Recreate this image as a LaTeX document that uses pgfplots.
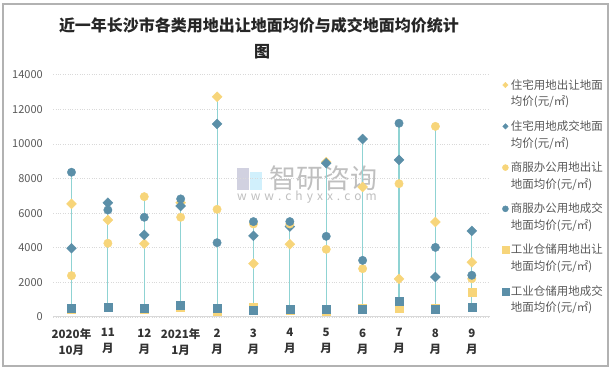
\documentclass[border=0pt]{standalone}
\usepackage{fontspec}
\setmainfont{Noto Sans CJK SC}
\usepackage{pgfplots}
\pgfplotsset{compat=1.18}
\definecolor{cy}{HTML}{F7D57A}
\definecolor{cb}{HTML}{5B8FA8}
\definecolor{cl}{HTML}{8FD3D3}
\definecolor{txt}{HTML}{595959}
\definecolor{gridc}{HTML}{D9D9D9}
\pgfplotsset{limg/.style={legend image code/.code={\draw[##1,yshift=8.2pt,/tikz/every mark/.append style={scale=#1}] plot coordinates {(0pt,0pt)};}}}
\begin{document}
\begin{tikzpicture}
\useasboundingbox (0pt,0pt) rectangle (614pt,371pt);
\draw[color=black!30, line width=1.2pt] (3pt,367pt) rectangle (608pt,5pt);
\node[font=\fontsize{16}{20}\selectfont\bfseries, text=black!85] at (259pt,346pt) {近一年长沙市各类用地出让地面均价与成交地面均价统计};
\node[font=\fontsize{16}{20}\selectfont\bfseries, text=black!85] at (262pt,319pt) {图};
% watermark
\fill[blue!20!gray!30] (237pt,181pt) rectangle (249pt,203pt);
\fill[cyan!18] (250pt,181pt) rectangle (262pt,199pt);
\node[font=\fontsize{27}{30}\selectfont, text=black!25] at (323pt,193pt) {智研咨询};
\node[font=\fontsize{12}{14}\selectfont, text=black!25] at (307pt,174pt) {w\,\,w\,\,w\,\,.\,\,c\,\,h\,\,y\,\,x\,\,x\,\,.\,\,c\,\,o\,\,m};
\begin{axis}[
  at={(53.3pt,54pt)}, anchor=south west, scale only axis,
  width=436.7pt, height=242.4pt,
  xmin=-0.5, xmax=11.5, ymin=0, ymax=14000,
  xtick={0,...,11},
  xticklabels={{2020年\\10月},{11\\月},{12\\月},{2021年\\1月},{2\\月},{3\\月},{4\\月},{5\\月},{6\\月},{7\\月},{8\\月},{9\\月}},
  ytick={0,2000,...,14000},
  scaled y ticks=false,
  axis x line*=bottom, axis y line*=left,
  x axis line style={-, draw=gridc, line width=1pt},
  y axis line style={draw=none},
  major tick length=0pt,
  ymajorgrids, grid style={gridc, dotted, line width=0.6pt},
  xticklabel style={align=center, font=\fontsize{11.5}{16}\selectfont\bfseries, text=black!80, yshift=-8pt},
  yticklabel style={font=\fontsize{11}{13}\selectfont, text=txt, xshift=-7pt},
  /pgf/number format/assume math mode=true,
  /pgf/number format/1000 sep={},
  legend style={at={(1.02,0.998)}, anchor=north west, draw=none, fill=none,
    font=\fontsize{11.5}{16.7}\selectfont, text=txt, cells={align=left, anchor=west},
    row sep=9.3pt},
  legend cell align=left,
]
\addplot[cl, line width=1.1pt, unbounded coords=jump, forget plot] coordinates {
(0,450) (0,8360) (0,nan)
(1,560) (1,6600) (1,nan)
(2,460) (2,6950) (2,nan)
(3,580) (3,6820) (3,nan)
(4,350) (4,12720) (4,nan)
(5,400) (5,5510) (5,nan)
(6,400) (6,5510) (6,nan)
(7,350) (7,8950) (7,nan)
(8,460) (8,10280) (8,nan)
(9,500) (9,11190) (9,nan)
(10,460) (10,11010) (10,nan)
(11,580) (11,4970)
};
\addplot[cy, only marks, mark=square*, mark size=3.5pt, mark options={rotate=45}, limg=0.55] coordinates {
(0,6530) (1,5600) (2,4230) (3,6600) (4,12720) (5,3080) (6,4200) (7,8950) (8,7510) (9,2200) (10,5490) (11,3160)};
\addlegendentry{住宅用地出让地面\\均价(元/㎡)}
\addplot[cb, only marks, mark=square*, mark size=3.5pt, mark options={rotate=45}, limg=0.55] coordinates {
(0,3970) (1,6600) (2,4740) (3,6410) (4,11150) (5,4690) (6,5220) (7,8880) (8,10280) (9,9070) (10,2310) (11,4970)};
\addlegendentry{住宅用地成交地面\\均价(元/㎡)}
\addplot[cy, only marks, mark=*, mark size=4.2pt, limg=0.72] coordinates {
(0,2390) (1,4260) (2,6950) (3,5760) (4,6220) (5,5370) (6,5370) (7,3910) (8,2790) (9,7700) (10,11010) (11,2210)};
\addlegendentry{商服办公用地出让\\地面均价(元/㎡)}
\addplot[cb, only marks, mark=*, mark size=4.2pt, limg=0.72] coordinates {
(0,8360) (1,6180) (2,5760) (3,6820) (4,4290) (5,5510) (6,5510) (7,4660) (8,3270) (9,11190) (10,4020) (11,2410)};
\addlegendentry{商服办公用地成交\\地面均价(元/㎡)}
\addplot[cy, only marks, mark=square*, mark size=4pt, limg=0.87] coordinates {
(0,450) (1,560) (2,460) (3,580) (4,350) (5,580) (6,400) (7,350) (8,520) (9,500) (10,520) (11,1440)};
\addlegendentry{工业仓储用地出让\\地面均价(元/㎡)}
\addplot[cb, only marks, mark=square*, mark size=4pt, limg=0.87] coordinates {
(0,520) (1,580) (2,520) (3,690) (4,520) (5,400) (6,460) (7,460) (8,460) (9,920) (10,460) (11,580)};
\addlegendentry{工业仓储用地成交\\地面均价(元/㎡)}
\end{axis}
\end{tikzpicture}
\end{document}
